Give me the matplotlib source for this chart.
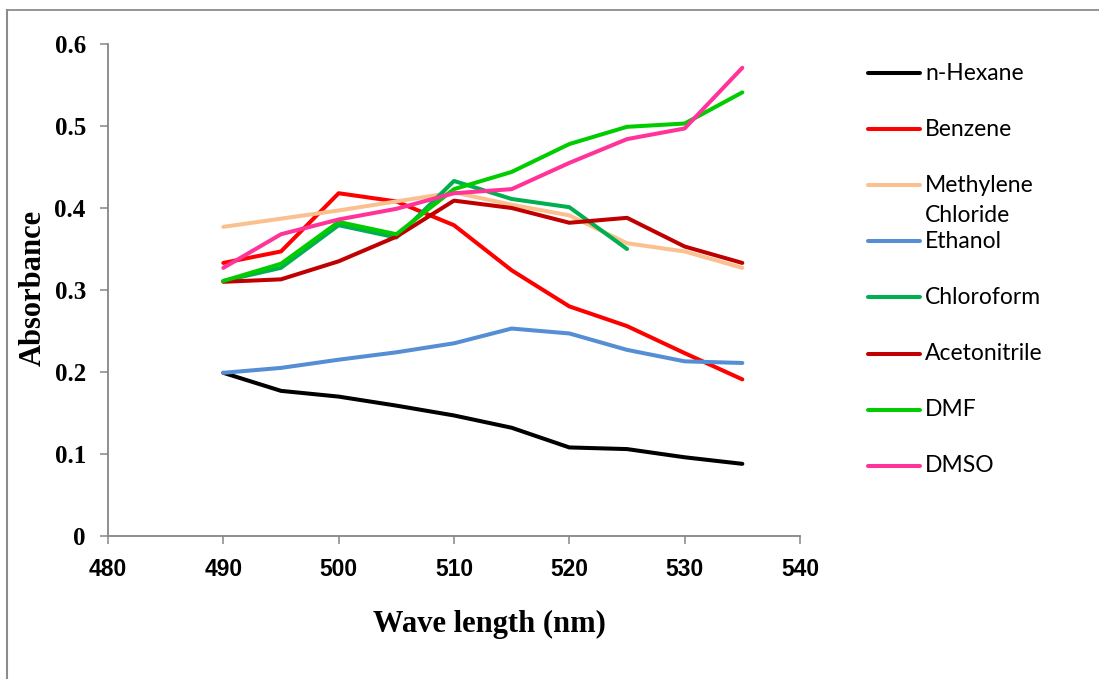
import matplotlib
matplotlib.use("Agg")
import matplotlib.pyplot as plt
from matplotlib.lines import Line2D
from matplotlib.ticker import FuncFormatter, MultipleLocator

# Wavelengths (nm) and absorbance of the dye in each solvent
wavelength = [490, 495, 500, 505, 510, 515, 520, 525, 530, 535]

n_hexane = [0.199, 0.177, 0.170, 0.159, 0.147, 0.132, 0.108, 0.106, 0.096, 0.088]
benzene = [0.333, 0.347, 0.418, 0.408, 0.379, 0.324, 0.280, 0.256, 0.223, 0.191]
methylene_chloride = [0.377, 0.387, 0.397, 0.408, 0.419, 0.404, 0.391, 0.357, 0.347, 0.327]
ethanol = [0.199, 0.205, 0.215, 0.224, 0.235, 0.253, 0.247, 0.227, 0.213, 0.211]
chloroform = [0.311, 0.327, 0.379, 0.364, 0.433, 0.411, 0.401, 0.350]
acetonitrile = [0.310, 0.313, 0.335, 0.365, 0.409, 0.400, 0.382, 0.388, 0.353, 0.333]
dmf = [0.311, 0.332, 0.383, 0.368, 0.423, 0.444, 0.478, 0.499, 0.503, 0.541]
dmso = [0.327, 0.368, 0.386, 0.399, 0.418, 0.423, 0.455, 0.484, 0.497, 0.571]

series_names = ["n-Hexane", "Benzene", "Methylene\nChloride", "Ethanol",
                "Chloroform", "Acetonitrile", "DMF", "DMSO"]
series_values = [n_hexane, benzene, methylene_chloride, ethanol,
                 chloroform, acetonitrile, dmf, dmso]
series_colors = ["#000000", "#FF0000", "#FAC090", "#558ED5",
                 "#00B050", "#C00000", "#00CC00", "#FF3399"]

W, H = 1099, 679
fig = plt.figure(figsize=(W / 100, H / 100), dpi=100)
fig.patch.set_facecolor("white")


def fx(px):
    return px / W


def fy(py):
    return 1 - py / H


ax = fig.add_axes([fx(108), fy(536), fx(800) - fx(108), fy(44) - fy(536)])

LW = 2.9
for vals, col in zip(series_values, series_colors):
    ax.plot(wavelength[:len(vals)], vals, color=col, lw=LW,
            solid_capstyle="round", solid_joinstyle="round")

ax.set_xlim(480, 540)
ax.set_ylim(0, 0.6)
ax.xaxis.set_major_locator(MultipleLocator(10))
ax.yaxis.set_major_locator(MultipleLocator(0.1))
ax.yaxis.set_major_formatter(FuncFormatter(lambda v, p: "0" if abs(v) < 1e-9 else f"{v:.1f}"))

axis_grey = "#868686"
for side in ("top", "right"):
    ax.spines[side].set_visible(False)
for side in ("left", "bottom"):
    ax.spines[side].set_color(axis_grey)
    ax.spines[side].set_linewidth(1.3)

ax.tick_params(axis="both", direction="out", length=6, width=1.1, color=axis_grey)
ax.tick_params(axis="y", pad=10)
ax.tick_params(axis="x", pad=10)

for lab in ax.get_yticklabels():
    lab.set_fontfamily("Liberation Serif")
    lab.set_fontweight("bold")
    lab.set_fontsize(18)
for lab in ax.get_xticklabels():
    lab.set_fontfamily("Liberation Sans")
    lab.set_fontweight("bold")
    lab.set_fontsize(16.5)

fig.text(fx(489), fy(624), "Wave length (nm)", ha="center", va="center",
         fontfamily="Liberation Serif", fontweight="bold", fontsize=22)
fig.text(fx(33), fy(288), "Absorbance", ha="center", va="center", rotation=90,
         fontfamily="Liberation Serif", fontweight="bold", fontsize=22)

# Legend drawn entry by entry so wrapped labels keep the even spacing
leg_top, leg_step = 73, 56.1
for i, (name, col) in enumerate(zip(series_names, series_colors)):
    yc = leg_top + i * leg_step
    fig.add_artist(Line2D([fx(868), fx(920)], [fy(yc), fy(yc)], color=col,
                          lw=LW, solid_capstyle="round"))
    for j, part in enumerate(name.split("\n")):
        fig.text(fx(925), fy(yc + j * 30), part, ha="left", va="center",
                 fontfamily="Lato", fontsize=16.5, color="#000000")

# Outer frame (top and left edges)
fig.add_artist(Line2D([fx(7), 1.0], [fy(10), fy(10)], color="#8C8C8C", lw=1.3))
fig.add_artist(Line2D([fx(7), fx(7)], [fy(10), 0.0], color="#8C8C8C", lw=1.5))

fig.savefig("out.png", dpi=100)
